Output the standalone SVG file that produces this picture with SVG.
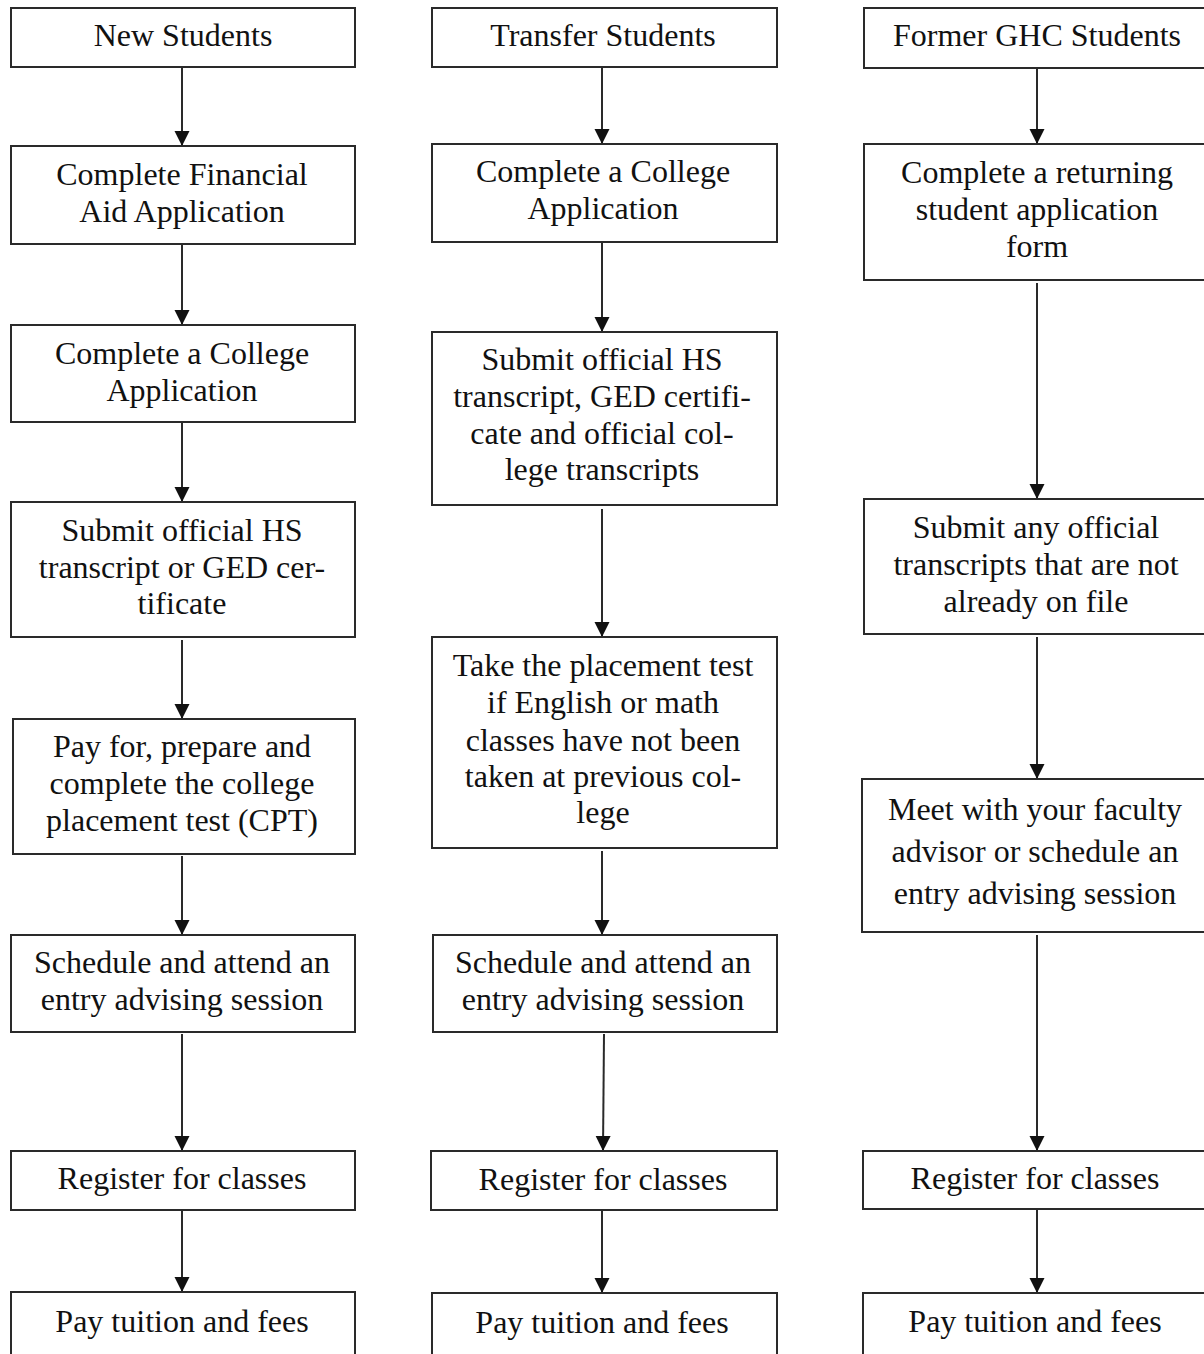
<svg xmlns="http://www.w3.org/2000/svg" width="1204" height="1354" viewBox="0 0 1204 1354">
<style>
.box{fill:#fff;stroke:#2a2a2a;stroke-width:2}
.t{font-family:'Liberation Serif','DejaVu Serif',serif;font-size:32px;fill:#111;text-anchor:middle}
.c{stroke:#2a2a2a;stroke-width:2;fill:none;marker-end:url(#ah)}
</style>
<defs>
<marker id="ah" markerUnits="userSpaceOnUse" markerWidth="16" markerHeight="16" refX="15" refY="7.5" orient="auto" viewBox="0 0 16 16">
<path d="M0,0 L15,7.5 L0,15 z" fill="#111"/>
</marker>
</defs>
<rect width="1204" height="1354" fill="#fff"/>
<g id="connectors">
<line class="c" x1="182" y1="68" x2="182" y2="146"/>
<line class="c" x1="182" y1="245" x2="182" y2="325"/>
<line class="c" x1="182" y1="423" x2="182" y2="502"/>
<line class="c" x1="182" y1="640" x2="182" y2="719"/>
<line class="c" x1="182" y1="856" x2="182" y2="935"/>
<line class="c" x1="182" y1="1034" x2="182" y2="1151"/>
<line class="c" x1="182" y1="1211" x2="182" y2="1292"/>
<line class="c" x1="602" y1="68" x2="602" y2="144"/>
<line class="c" x1="602" y1="243" x2="602" y2="332"/>
<line class="c" x1="602" y1="509" x2="602" y2="637"/>
<line class="c" x1="602" y1="851" x2="602" y2="935"/>
<line class="c" x1="604" y1="1034" x2="603" y2="1151"/>
<line class="c" x1="602" y1="1211" x2="602" y2="1293"/>
<line class="c" x1="1037" y1="69" x2="1037" y2="144"/>
<line class="c" x1="1037" y1="283" x2="1037" y2="499"/>
<line class="c" x1="1037" y1="637" x2="1037" y2="779"/>
<line class="c" x1="1037" y1="935" x2="1037" y2="1151"/>
<line class="c" x1="1037" y1="1210" x2="1037" y2="1293"/>
</g>
<g id="n1"><rect class="box" x="11" y="8" width="344" height="59"/><text class="t" x="183" y="46">New Students</text></g>
<g id="n2"><rect class="box" x="11" y="146" width="344" height="98"/><text class="t" x="182" y="185">Complete Financial</text><text class="t" x="182" y="222">Aid Application</text></g>
<g id="n3"><rect class="box" x="11" y="325" width="344" height="97"/><text class="t" x="182" y="364">Complete a College</text><text class="t" x="182" y="401">Application</text></g>
<g id="n4"><rect class="box" x="11" y="502" width="344" height="135"/><text class="t" x="182" y="541">Submit official HS</text><text class="t" x="182" y="578">transcript or GED cer-</text><text class="t" x="182" y="614">tificate</text></g>
<g id="n5"><rect class="box" x="13" y="719" width="342" height="135"/><text class="t" x="182" y="757">Pay for, prepare and</text><text class="t" x="182" y="794">complete the college</text><text class="t" x="182" y="831">placement test (CPT)</text></g>
<g id="n6"><rect class="box" x="11" y="935" width="344" height="97"/><text class="t" x="182" y="973">Schedule and attend an</text><text class="t" x="182" y="1010">entry advising session</text></g>
<g id="n7"><rect class="box" x="11" y="1151" width="344" height="59"/><text class="t" x="182" y="1189">Register for classes</text></g>
<g id="n8"><rect class="box" x="11" y="1292" width="344" height="70"/><text class="t" x="182" y="1332">Pay tuition and fees</text></g>
<g id="t1"><rect class="box" x="432" y="8" width="345" height="59"/><text class="t" x="603" y="46">Transfer Students</text></g>
<g id="t2"><rect class="box" x="432" y="144" width="345" height="98"/><text class="t" x="603" y="182">Complete a College</text><text class="t" x="603" y="219">Application</text></g>
<g id="t3"><rect class="box" x="432" y="332" width="345" height="173"/><text class="t" x="602" y="370">Submit official HS</text><text class="t" x="602" y="407">transcript, GED certifi-</text><text class="t" x="602" y="444">cate and official col-</text><text class="t" x="602" y="480">lege transcripts</text></g>
<g id="t4"><rect class="box" x="432" y="637" width="345" height="211"/><text class="t" x="603" y="676">Take the placement test</text><text class="t" x="603" y="713">if English or math</text><text class="t" x="603" y="751">classes have not been</text><text class="t" x="603" y="787">taken at previous col-</text><text class="t" x="603" y="823">lege</text></g>
<g id="t5"><rect class="box" x="433" y="935" width="344" height="97"/><text class="t" x="603" y="973">Schedule and attend an</text><text class="t" x="603" y="1010">entry advising session</text></g>
<g id="t6"><rect class="box" x="431" y="1151" width="346" height="59"/><text class="t" x="603" y="1190">Register for classes</text></g>
<g id="t7"><rect class="box" x="432" y="1293" width="345" height="70"/><text class="t" x="602" y="1333">Pay tuition and fees</text></g>
<g id="f1"><rect class="box" x="864" y="8" width="350" height="60"/><text class="t" x="1037" y="46">Former GHC Students</text></g>
<g id="f2"><rect class="box" x="864" y="144" width="350" height="136"/><text class="t" x="1037" y="183">Complete a returning</text><text class="t" x="1037" y="220">student application</text><text class="t" x="1037" y="257">form</text></g>
<g id="f3"><rect class="box" x="864" y="499" width="350" height="135"/><text class="t" x="1036" y="538">Submit any official</text><text class="t" x="1036" y="575">transcripts that are not</text><text class="t" x="1036" y="612">already on file</text></g>
<g id="f4"><rect class="box" x="862" y="779" width="352" height="153"/><text class="t" x="1035" y="820">Meet with your faculty</text><text class="t" x="1035" y="862">advisor or schedule an</text><text class="t" x="1035" y="904">entry advising session</text></g>
<g id="f5"><rect class="box" x="863" y="1151" width="351" height="58"/><text class="t" x="1035" y="1189">Register for classes</text></g>
<g id="f6"><rect class="box" x="863" y="1293" width="351" height="70"/><text class="t" x="1035" y="1332">Pay tuition and fees</text></g>
</svg>
